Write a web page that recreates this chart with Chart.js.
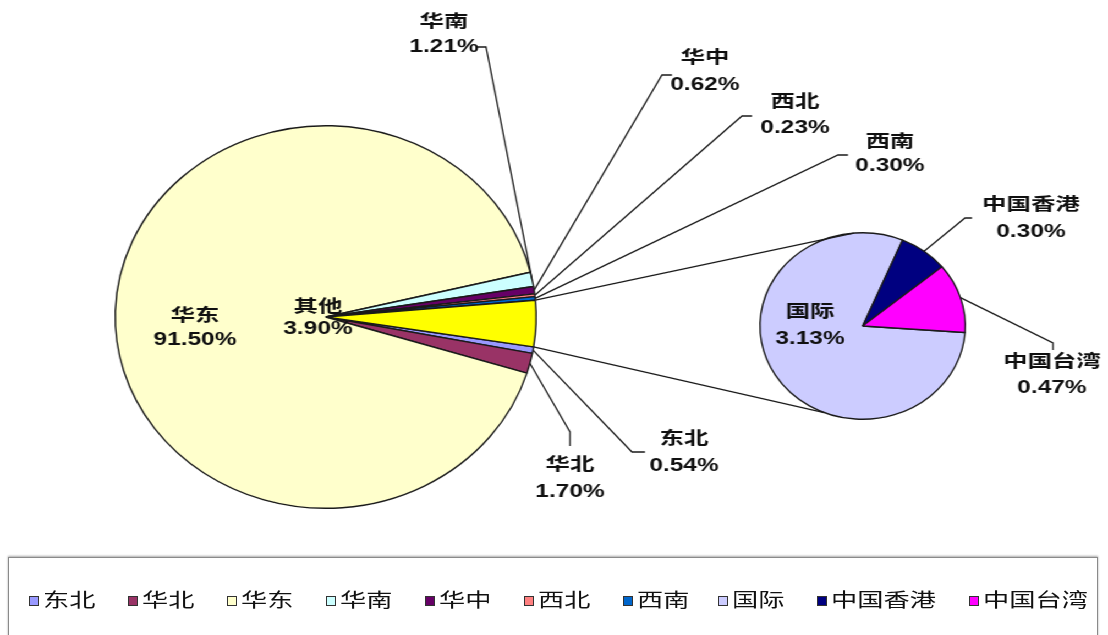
<!DOCTYPE html>
<html>
<head>
<meta charset="utf-8">
<script src="https://cdn.jsdelivr.net/npm/chart.js@4.4.1/dist/chart.umd.min.js"></script>
<style>
  html, body { margin: 0; padding: 0; background: #fff; }
  body { width: 1108px; height: 635px; position: relative; overflow: hidden; }
  #stage { position: absolute; left: 0; top: 0; width: 1007px; height: 635px; transform: scaleX(1.1003); transform-origin: 0 0; }
  #stage canvas { position: absolute; left: 0; top: 0; }
  #legend { position: absolute; left: 8px; top: 557px; width: 1088px; height: 100px; border: 1px solid #8a8a8a; box-shadow: 0 -1px 2px #aaa; background: #fff; font-family: "Noto Sans CJK SC", sans-serif; }
  .sw { position: absolute; width: 8px; height: 8px; border: 1px solid #333; top: 38px; }
  .tx { position: absolute; top: 28px; font-size: 19px; line-height: 26px; color: #111; transform: scaleX(1.38); transform-origin: 0 50%; white-space: nowrap; }
</style>
</head>
<body>
<div id="stage">
  <canvas id="main" width="1007" height="635"></canvas>
  <canvas id="sub" width="1007" height="635"></canvas>
</div>
<div id="legend"></div>
<script>
// main pie (华东 etc. + 其他)
const mainLabels = ['东北', '华北', '华东', '华南', '华中', '西北', '西南', '其他'];
const mainValues = [0.54, 1.70, 91.50, 1.21, 0.62, 0.23, 0.30, 3.90];
const mainColors = ['#9999FF', '#993366', '#FFFFCC', '#CCFFFF', '#660066', '#FF8080', '#0066CC', '#FFFF00'];

// secondary pie (breakdown of 其他)
const subLabels = ['国际', '中国香港', '中国台湾'];
const subValues = [3.13, 0.30, 0.47];
const subColors = ['#CCCCFF', '#000080', '#FF00FF'];

const legendLabels = ['东北', '华北', '华东', '华南', '华中', '西北', '西南', '国际', '中国香港', '中国台湾'];
const legendColors = ['#9999FF', '#993366', '#FFFFCC', '#CCFFFF', '#660066', '#FF8080', '#0066CC', '#CCCCFF', '#000080', '#FF00FF'];

const SX = 1.1003;      // horizontal stretch of the stage
const TEXT_SX = 1.27;   // extra stretch of data label text
const LINE = '#1a1a1a';

// label placement, in page pixels: text centre x, line 1 y, line 2 y, leader bend points
const labelPos = {
  '华东': { x: 195, y1: 316, y2: 340 },
  '其他': { x: 318, y1: 307, y2: 329 },
  '华南': { x: 444, y1: 22, y2: 47, lead: [[477, 47], [486, 47]] },
  '华中': { x: 705, y1: 58, y2: 85, lead: [[672, 75], [662, 75]] },
  '西北': { x: 795, y1: 102, y2: 128, lead: [[752, 116], [742, 116]] },
  '西南': { x: 890, y1: 142, y2: 166, lead: [[848, 155], [838, 155]] },
  '东北': { x: 684, y1: 439, y2: 466, lead: [[645, 452], [632, 452]] },
  '华北': { x: 570, y1: 465, y2: 492, lead: [[570, 446], [570, 432]] },
  '国际': { x: 810, y1: 312, y2: 339 },
  '中国香港': { x: 1031, y1: 205, y2: 232, lead: [[972, 218], [965, 218]] },
  '中国台湾': { x: 1052, y1: 362, y2: 388, lead: [[1053, 350], [1053, 343]] }
};

function pct(v) { return v.toFixed(2) + '%'; }

function drawText(ctx, t, x, y) {
  ctx.save();
  ctx.translate(x / SX, y);
  ctx.scale(TEXT_SX, 1);
  ctx.fillText(t, 0, 0);
  ctx.restore();
}

function outerMid(arc) {
  const p = arc.getProps(['x', 'y', 'startAngle', 'endAngle', 'outerRadius'], true);
  const a = (p.startAngle + p.endAngle) / 2;
  return [p.x + Math.cos(a) * p.outerRadius, p.y + Math.sin(a) * p.outerRadius];
}

function drawLabels(chart, labels, values) {
  const ctx = chart.ctx;
  const arcs = chart.getDatasetMeta(0).data;
  ctx.save();
  ctx.strokeStyle = LINE;
  ctx.lineWidth = 1.3;
  labels.forEach((name, i) => {
    const lp = labelPos[name];
    if (!lp || !lp.lead) return;
    const end = outerMid(arcs[i]);
    ctx.beginPath();
    ctx.moveTo(lp.lead[0][0] / SX, lp.lead[0][1]);
    ctx.lineTo(lp.lead[1][0] / SX, lp.lead[1][1]);
    ctx.lineTo(end[0], end[1]);
    ctx.stroke();
  });
  ctx.font = 'bold 17.5px "Liberation Sans", "Noto Sans CJK SC", sans-serif';
  ctx.fillStyle = '#101010';
  ctx.textAlign = 'center';
  ctx.textBaseline = 'middle';
  labels.forEach((name, i) => {
    const lp = labelPos[name];
    if (!lp) return;
    drawText(ctx, name, lp.x, lp.y1);
    drawText(ctx, pct(values[i]), lp.x, lp.y2);
  });
  ctx.restore();
}

const mainLabelPlugin = {
  id: 'mainLabels',
  afterDraw(chart) { drawLabels(chart, mainLabels, mainValues); }
};

const subPlugin = {
  id: 'subLabels',
  afterDraw(chart) {
    const ctx = chart.ctx;
    // connector lines from the 其他 slice to the secondary pie
    const other = mainChart.getDatasetMeta(0).data[mainLabels.indexOf('其他')];
    const o = other.getProps(['x', 'y', 'startAngle', 'endAngle', 'outerRadius'], true);
    const s = chart.getDatasetMeta(0).data[0].getProps(['x', 'y', 'outerRadius'], true);
    const targets = [-95, 112].map(d => d * Math.PI / 180);
    const froms = [o.startAngle, o.endAngle];
    ctx.save();
    ctx.strokeStyle = LINE;
    ctx.lineWidth = 1.3;
    for (let k = 0; k < 2; k++) {
      ctx.beginPath();
      ctx.moveTo(o.x + Math.cos(froms[k]) * o.outerRadius, o.y + Math.sin(froms[k]) * o.outerRadius);
      ctx.lineTo(s.x + Math.cos(targets[k]) * s.outerRadius, s.y + Math.sin(targets[k]) * s.outerRadius);
      ctx.stroke();
    }
    ctx.restore();
    drawLabels(chart, subLabels, subValues);
  }
};

const mainChart = new Chart(document.getElementById('main'), {
  type: 'pie',
  data: {
    labels: mainLabels,
    datasets: [{ data: mainValues, backgroundColor: mainColors, borderColor: '#1a1a1a', borderWidth: 1.4 }]
  },
  options: {
    responsive: false,
    animation: false,
    events: [],
    rotation: 99,
    layout: { padding: { left: 104, right: 519, top: 125, bottom: 126 } },
    plugins: { legend: { display: false }, tooltip: { enabled: false } }
  },
  plugins: [mainLabelPlugin]
});

const subChart = new Chart(document.getElementById('sub'), {
  type: 'pie',
  data: {
    labels: subLabels,
    datasets: [{ data: subValues, backgroundColor: subColors, borderColor: '#1a1a1a', borderWidth: 1.4 }]
  },
  options: {
    responsive: false,
    animation: false,
    events: [],
    rotation: 94,
    layout: { padding: { left: 690, right: 129, top: 232, bottom: 215 } },
    plugins: { legend: { display: false }, tooltip: { enabled: false } }
  },
  plugins: [subPlugin]
});

// legend box under the chart
const legendX = [20, 119, 218, 317, 416, 515, 614, 709, 808, 960];
const legend = document.getElementById('legend');
legendLabels.forEach((name, i) => {
  const sw = document.createElement('div');
  sw.className = 'sw';
  sw.style.left = legendX[i] + 'px';
  sw.style.background = legendColors[i];
  const tx = document.createElement('div');
  tx.className = 'tx';
  tx.style.left = (legendX[i] + 14) + 'px';
  tx.textContent = name;
  legend.appendChild(sw);
  legend.appendChild(tx);
});
</script>
</body>
</html>
